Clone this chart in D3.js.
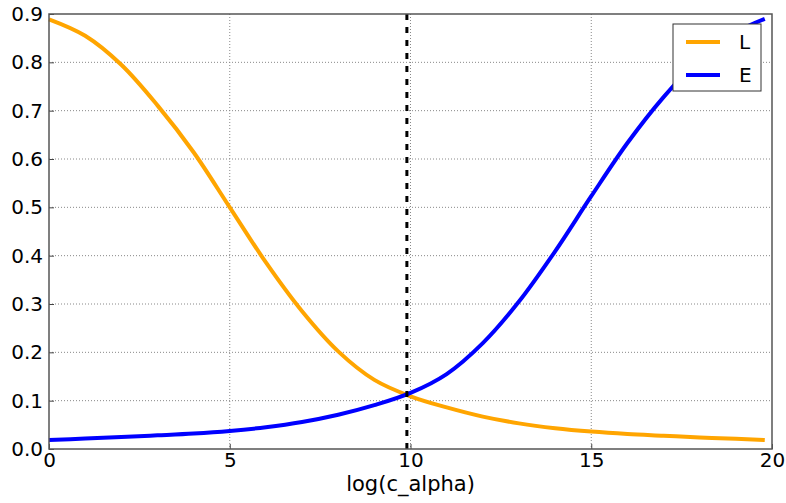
<!DOCTYPE html>
<html>
<head>
<meta charset="utf-8">
<script src="https://cdn.jsdelivr.net/npm/d3@7"></script>
<style>
  html, body { margin: 0; padding: 0; background: #fff; }
  svg { display: block; font-family: "DejaVu Sans", sans-serif; }
</style>
</head>
<body>
<svg id="chart" width="786" height="503"></svg>
<script>
// ---- data ----
const xValues = [0, 1, 2, 3, 4, 5, 6, 7, 8, 9, 10, 11, 12, 13, 14, 15, 16, 17, 18, 19, 19.8];
const seriesL = [0.889, 0.855, 0.795, 0.711, 0.614, 0.500, 0.386, 0.285, 0.202, 0.143, 0.109, 0.086, 0.067, 0.053, 0.043, 0.036, 0.031, 0.0275, 0.024, 0.021, 0.0186];
const seriesE = [0.0186, 0.0216, 0.0247, 0.0282, 0.032, 0.0374, 0.045, 0.0558, 0.0708, 0.0906, 0.116, 0.155, 0.219, 0.305, 0.409, 0.523, 0.633, 0.728, 0.807, 0.862, 0.890];
const seriesNames = ["L", "E"];
const seriesColors = ["#FFA500", "#0000FF"];
const xTicks = [0, 5, 10, 15, 20];
const yTicks = [0.0, 0.1, 0.2, 0.3, 0.4, 0.5, 0.6, 0.7, 0.8, 0.9];
const crossingX = [9.9];
const xLabel = "log(c_alpha)";

(function () {
// ---- layout ----
const svg = d3.select("#chart");
const pL = 49, pR = 772, pT = 14, pB = 449;
const x = d3.scaleLinear().domain([0, 20]).range([pL, pR]);
const y = d3.scaleLinear().domain([0, 0.9]).range([pB, pT]);

// grid
const grid = svg.append("g");
grid.selectAll("line.gx").data(xTicks.slice(1, -1)).join("line")
  .attr("x1", d => x(d)).attr("x2", d => x(d))
  .attr("y1", pT).attr("y2", pB)
  .attr("stroke", "#888").attr("stroke-width", 1).attr("stroke-dasharray", "1,2");
grid.selectAll("line.gy").data(yTicks.slice(1, -1)).join("line")
  .attr("x1", pL).attr("x2", pR)
  .attr("y1", d => y(d)).attr("y2", d => y(d))
  .attr("stroke", "#888").attr("stroke-width", 1).attr("stroke-dasharray", "1,2");

// lines
const line = d3.line().curve(d3.curveCatmullRom.alpha(0.5)).x(d => x(d[0])).y(d => y(d[1]));
[seriesL, seriesE].forEach((s, i) => {
  svg.append("path")
    .datum(xValues.map((xv, j) => [xv, s[j]]))
    .attr("fill", "none")
    .attr("stroke", seriesColors[i])
    .attr("stroke-width", 4)
    .attr("d", line);
});

// vertical dashed line
svg.selectAll("line.vx").data(crossingX).join("line")
  .attr("x1", d => x(d)).attr("x2", d => x(d))
  .attr("y1", pT).attr("y2", pB)
  .attr("stroke", "#000").attr("stroke-width", 3).attr("stroke-dasharray", "6,7");

// axes
const xAxis = d3.axisBottom(x).tickValues(xTicks).tickFormat(d3.format("d")).tickSizeInner(-5).tickSizeOuter(0).tickPadding(10);
const yAxis = d3.axisLeft(y).tickValues(yTicks).tickFormat(d3.format(".1f")).tickSizeInner(-5).tickSizeOuter(0).tickPadding(10);
const gx = svg.append("g").attr("transform", `translate(0,${pB})`).call(xAxis);
const gy = svg.append("g").attr("transform", `translate(${pL},0)`).call(yAxis);
[gx, gy].forEach(g => {
  g.select(".domain").remove();
  g.selectAll(".tick line").attr("stroke", "#444");
  g.selectAll(".tick text").attr("fill", "#000").style("font-size", "20px").style("font-family", "DejaVu Sans, sans-serif");
});
gx.selectAll(".tick text").attr("dy", "0.71em").attr("y", 4);
gy.selectAll(".tick text").attr("x", -6);

// frame
svg.append("rect")
  .attr("x", pL).attr("y", pT)
  .attr("width", pR - pL).attr("height", pB - pT)
  .attr("fill", "none").attr("stroke", "#555").attr("stroke-width", 1.5);

// x label
svg.append("text")
  .attr("x", (pL + pR) / 2).attr("y", 491)
  .attr("text-anchor", "middle")
  .style("font-size", "21px")
  .text(xLabel);

// legend
const lg = svg.append("g");
lg.append("rect").attr("x", 673).attr("y", 24).attr("width", 88).attr("height", 67)
  .attr("fill", "#fff").attr("stroke", "#333").attr("stroke-width", 1);
seriesNames.forEach((n, i) => {
  const yy = 42 + i * 33;
  lg.append("line").attr("x1", 686).attr("x2", 720).attr("y1", yy).attr("y2", yy)
    .attr("stroke", seriesColors[i]).attr("stroke-width", 4);
  lg.append("text").attr("x", 739).attr("y", yy + 7).style("font-size", "20px").text(n);
});
})();
</script>
</body>
</html>
